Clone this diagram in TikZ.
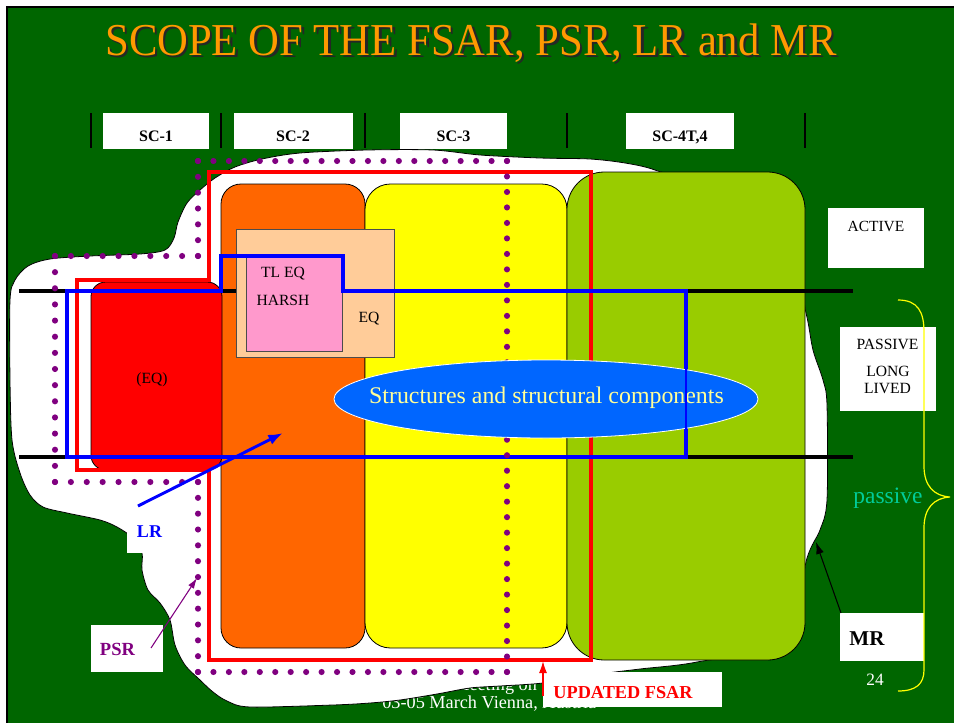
\documentclass[tikz,border=0pt]{standalone}
\usepackage{fontspec}
\usepackage{graphicx}
\setmainfont{Liberation Serif}
\usetikzlibrary{shapes.geometric,arrows.meta}

\definecolor{slidegreen}{RGB}{0,102,0}
\definecolor{titleorange}{RGB}{255,153,0}
\definecolor{sctwo}{RGB}{255,102,0}
\definecolor{scthree}{RGB}{255,255,0}
\definecolor{scfour}{RGB}{153,204,0}
\definecolor{eqpeach}{RGB}{255,204,153}
\definecolor{harshpink}{RGB}{255,153,204}
\definecolor{psrpurple}{RGB}{128,0,128}
\definecolor{ellblue}{RGB}{0,102,255}
\definecolor{paleyellow}{RGB}{255,255,153}
\definecolor{passiveteal}{RGB}{0,204,153}

\newcommand\fsz[1]{\fontsize{#1}{#1}\selectfont}
% a straight row of PSR dots: x1, y1, x2, y2, number of gaps
\newcommand\psrdots[5]{%
  \foreach \i in {0,...,#5}{\fill[psrpurple] ({#1+(#3-#1)/#5*\i},{#2+(#4-#2)/#5*\i}) circle (2.3pt);}}

\begin{document}
\begin{tikzpicture}[x=0.75pt,y=-0.75pt,
  column/.style={draw=black,line width=0.6pt},
  tag/.style={inner sep=0pt},
  hdr/.style={tag,anchor=base,font=\fsz{12pt}\bfseries},
  small/.style={tag,font=\fsz{11.7pt}},
  bar/.style={line width=3pt},
  whitebox/.style={fill=white},
]
\useasboundingbox (0,0) rectangle (954,722);
\clip (0,0) rectangle (954,722);
\fill[white] (0,0) rectangle (954,722);
\filldraw[fill=slidegreen,draw=black,line width=1.5pt] (7,7) rectangle (990,750);

% title with its drop shadow
\node[tag,anchor=base,text=black!85] (titleshadow) at (473.5,57.5)
  {\fsz{32pt}\scalebox{1}[1.07]{SCOPE OF THE FSAR, PSR, LR and MR}};
\node[tag,anchor=base,text=titleorange] (title) at (471,55)
  {\fsz{32pt}\scalebox{1}[1.07]{SCOPE OF THE FSAR, PSR, LR and MR}};

% safety class headers
\fill[whitebox] (103,113) rectangle (209,149);
\fill[whitebox] (234,113) rectangle (353,149);
\fill[whitebox] (400,113) rectangle (507,149);
\fill[whitebox] (626,113) rectangle (734,149);
\foreach \x in {91,221,365,567,805} \draw[black,line width=0.8pt] (\x,113) -- (\x,148);
\node[hdr] (sc1) at (156,141) {SC-1};
\node[hdr] (sc2) at (293,141) {SC-2};
\node[hdr] (sc3) at (453.5,141) {SC-3};
\node[hdr] (sc4) at (680,141) {SC-4T,4};

% footer
\node[tag,anchor=base west,text=white,font=\fsz{13.7pt}] (meeting) at (453,690) {Meeting on};
\node[tag,anchor=base west,text=white,font=\fsz{13.7pt}] (venue) at (382,708) {03-05 March Vienna, Austria};

% MR cloud
\draw[fill=white,draw=black,line width=0.6pt] plot[smooth cycle,tension=0.5] coordinates {
  (10,300) (15,280) (28,266) (50,259) (90,256) (140,254) (165,250) (174,238)
  (178,222) (187,203) (200,190) (215,178) (235,167) (262,159) (300,153)
  (367,150) (433,150) (480,155) (540,158) (590,159) (625,163) (655,170)
  (700,190) (790,262) (806,313) (813,350) (823,380) (827,405) (827,500)
  (820,530) (807,558) (785,640) (697,662) (640,669) (600,674) (543,683)
  (500,686) (470,688) (437,694) (400,700) (370,703) (333,705) (250,707)
  (227,701) (213,692) (200,680)
  (185,665) (175,645) (170,620) (160,603) (148,590) (142,570) (142,553)
  (133,538) (117,527) (100,520) (67,513) (43,507) (30,495) (20,473)
  (12,440) (10,380)};

% component columns
\draw[column,fill=sctwo,rounded corners=15pt] (221,184) rectangle (365,648);
\draw[column,fill=scthree,rounded corners=19pt] (365,184) rectangle (567,648);
\draw[column,fill=scfour,rounded corners=28pt] (567,172) rectangle (805,660);
\draw[column,fill=red,rounded corners=11pt] (91,282) rectangle (222,470);
\node[small] (eqone) at (152,380) {(EQ)};

% passive long lived band
\draw[bar] (19,291) -- (853,291);
\draw[bar] (19,457) -- (853,457);

% EQ boxes
\draw[fill=eqpeach,draw=black!70,line width=0.6pt] (236,229) rectangle (394,357);
\draw[fill=harshpink,draw=black!70,line width=0.6pt] (246,257) rectangle (342,351);
\node[small] (tleq) at (283,274) {TL EQ};
\node[small] (harsh) at (283,300) {HARSH};
\node[small] (eqtwo) at (369,318.5) {EQ};

% updated FSAR scope
\draw[red,line width=3pt] (209,172) -- (591,172) -- (591,660) -- (209,660) -- (209,470)
  -- (77,470) -- (77,280) -- (209,280) -- cycle;

% LR scope
\draw[blue,line width=3pt] (67,291) -- (221,291) -- (221,256) -- (343,256) -- (343,291)
  -- (686,291) -- (686,457) -- (67,457) -- cycle;

% PSR scope
\psrdots{198}{161}{507}{161}{20}
\psrdots{507}{161}{507}{672}{33}
\psrdots{507}{672}{198}{672}{20}
\psrdots{198}{672}{198}{482}{12}
\psrdots{198}{482}{55}{482}{9}
\psrdots{55}{482}{55}{256}{14}
\psrdots{55}{256}{198}{256}{9}
\psrdots{198}{256}{198}{161}{6}

% structures
\node[ellipse,fill=ellblue,draw=white,line width=0.6pt,minimum width=318pt,minimum height=58.5pt,
  inner sep=0pt] (structs) at (546,399) {};
\node[tag,text=paleyellow,font=\fsz{17.9pt}] (structstext) at (546.5,398)
  {Structures and structural components};
\draw[blue,line width=0.8pt] (686,361) -- (686,437);

% right hand labels
\fill[whitebox] (828,208) rectangle (924,268);
\node[small,font=\fsz{11.6pt}] (active) at (876,226) {ACTIVE};
\fill[whitebox] (840,327) rectangle (936,411);
\node[small] (passivebox) at (887.5,344.5) {PASSIVE};
\node[small] (long) at (888,371.5) {LONG};
\node[small] (lived) at (887.5,388.5) {LIVED};
\node[tag,anchor=base,text=passiveteal,font=\fsz{17.6pt}] (passive) at (888,503) {passive};
\fill[whitebox] (840,613) rectangle (924,661);
\node[tag,anchor=base,font=\fsz{15.8pt}\bfseries] (mr) at (867,645) {MR};
\node[tag,anchor=base,text=white,font=\fsz{13pt}] (page) at (875,685) {24};
\draw[scthree,line width=0.9pt] (898,300) .. controls (918,300) and (924,312) .. (924,332)
  -- (924,466) .. controls (924,486) and (934,496) .. (950,497)
  .. controls (934,498) and (924,508) .. (924,528)
  -- (924,670) .. controls (924,684) and (916,691) .. (898,691);

% bottom left labels
\fill[whitebox] (127,518) rectangle (172,553);
\node[tag,anchor=base,text=blue,font=\fsz{13.5pt}\bfseries] (lr) at (149.5,537) {LR};
\fill[whitebox] (91,625) rectangle (163,672);
\node[tag,anchor=base,text=psrpurple,font=\fsz{13.9pt}\bfseries] (psr) at (117.5,655) {PSR};
\fill[whitebox] (543,672) rectangle (722,707);
\node[tag,anchor=base,text=red,font=\fsz{13.7pt}\bfseries] (fsar) at (623,698) {UPDATED FSAR};

% pointers
\coordinate (lrfoot) at (138,506);
\coordinate (lrtip) at (283,433);
\draw[blue,line width=2.2pt,-{Latex[length=11pt,width=8pt]}] (lrfoot) -- (lrtip);
\coordinate (psrfoot) at (151,648);
\coordinate (psrtip) at (197,578);
\draw[psrpurple,line width=0.8pt,-{Latex[length=8pt,width=5pt]}] (psrfoot) -- (psrtip);
\coordinate (fsarfoot) at (543,696);
\coordinate (fsartip) at (543,661);
\draw[red,line width=1.2pt,-{Latex[length=9pt,width=6pt]}] (fsarfoot) -- (fsartip);
\coordinate (mrfoot) at (841,613);
\coordinate (mrtip) at (816,542);
\draw[black,line width=0.8pt,-{Latex[length=9pt,width=6pt]}] (mrfoot) -- (mrtip);
\end{tikzpicture}
\end{document}
